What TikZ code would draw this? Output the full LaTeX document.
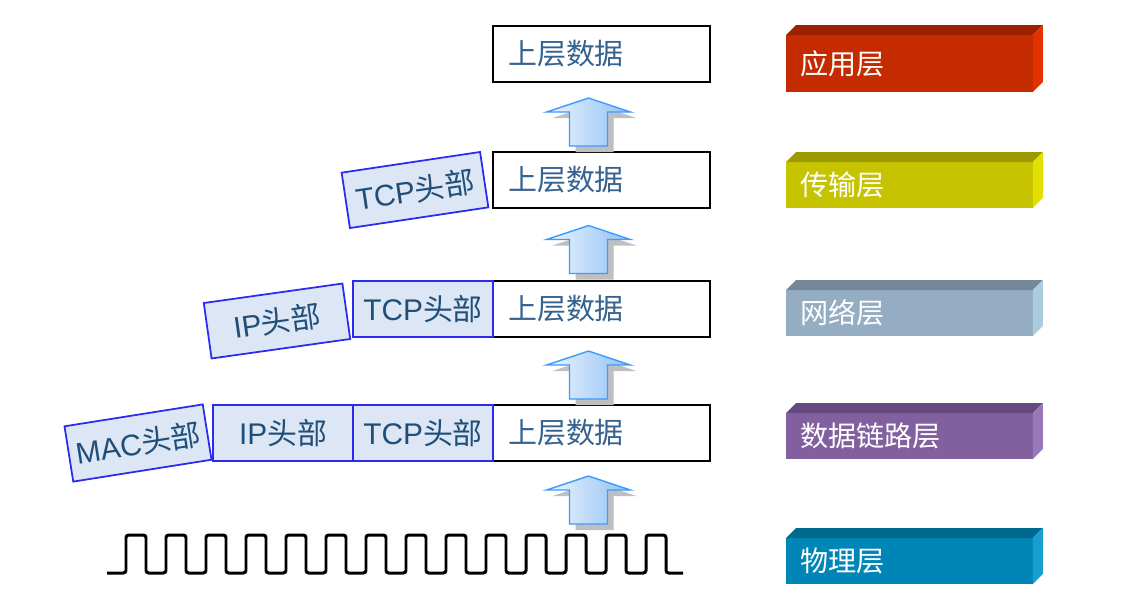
\documentclass[tikz,border=0pt]{standalone}
\usepackage{fontspec}
\setmainfont{Liberation Sans}
\newfontfamily\cjk{Noto Sans CJK SC}
\usetikzlibrary{positioning,calc}

\definecolor{hdrblue}{HTML}{2B2BF0}
\definecolor{hdrfill}{HTML}{DCE6F4}
\definecolor{hdrtext}{HTML}{1F4E79}
\definecolor{datatext}{HTML}{35628F}
\definecolor{arrowedge}{HTML}{3C9BFF}
\definecolor{arrowlight}{HTML}{EEF5FF}
\definecolor{arrowdark}{HTML}{8EC0F2}
% layer bar colours: front / top / side
\definecolor{appfront}{HTML}{C42B00}\definecolor{apptop}{HTML}{9C2100}\definecolor{appside}{HTML}{E23200}
\definecolor{trafront}{HTML}{C6C300}\definecolor{tratop}{HTML}{9C9A00}\definecolor{traside}{HTML}{E2E000}
\definecolor{netfront}{HTML}{94ADC3}\definecolor{nettop}{HTML}{748899}\definecolor{netside}{HTML}{ABCBDF}
\definecolor{linkfront}{HTML}{8260A0}\definecolor{linktop}{HTML}{654A80}\definecolor{linkside}{HTML}{9A76BA}
\definecolor{phyfront}{HTML}{0086B6}\definecolor{phytop}{HTML}{006A8E}\definecolor{physide}{HTML}{16A0D2}

\newcommand{\liftarrow}[1]{%
  \fill[black!25] ($(#1)+(6,6)$) -- ++(42,14) -- ++(-23,0) -- ++(0,34) -- ++(-38,0) -- ++(0,-34) -- ++(-23,0) -- cycle;
  \draw[arrowedge, line width=0.8pt, left color=arrowlight, right color=arrowdark]
    (#1) -- ++(42,14) -- ++(-23,0) -- ++(0,34) -- ++(-38,0) -- ++(0,-34) -- ++(-23,0) -- cycle;}

\newcommand{\layerfaces}[3]{%
  \fill[#2] (#1.north west) -- ++(10,-10) -- ($(#1.north east)+(10,-10)$) -- (#1.north east) -- cycle;
  \fill[#3] (#1.north east) -- ++(10,-10) -- ($(#1.south east)+(10,-10)$) -- (#1.south east) -- cycle;}

\begin{document}
\begin{tikzpicture}[
    x=0.02cm, y=-0.02cm,
    databox/.style={draw, line width=0.8pt, fill=white, minimum height=1.12cm, text width=3.74cm,
        inner xsep=0.3cm, inner ysep=0pt, outer sep=0pt, align=left, text=datatext,
        font=\cjk\fontsize{16.5}{20}\selectfont},
    hdr/.style={draw=hdrblue, fill=hdrfill, line width=1pt, minimum width=2.8cm, minimum height=1.12cm,
        inner sep=0pt, outer sep=0pt, text=hdrtext, font=\fontsize{17}{20}\selectfont},
    layerbar/.style={anchor=north west, minimum height=0.92cm, text width=4.38cm, inner xsep=0.28cm,
        inner ysep=0pt, outer sep=0pt, align=left, text=white, font=\cjk\fontsize{16}{20}\selectfont}
]
\useasboundingbox (0,0) rectangle (1129,610);

% data units
\node[databox] (data1) at (601.5,54) {上层数据};
\node[databox] (data2) at (601.5,180) {上层数据};
\node[databox] (data3) at (601.5,309) {上层数据};
\node[databox] (data4) at (601.5,433) {上层数据};

% headers
\node[hdr, rotate=8.5] (tcp2) at (415,190) {TCP{\cjk 头部}};
\node[hdr, left=0pt of data3] (tcp3) {TCP{\cjk 头部}};
\node[hdr, rotate=8] (ip3) at (277,321) {IP{\cjk 头部}};
\node[hdr, left=0pt of data4] (tcp4) {TCP{\cjk 头部}};
\node[hdr, left=0pt of tcp4] (ip4) {IP{\cjk 头部}};
\node[hdr, rotate=9] (mac4) at (138,443) {MAC{\cjk 头部}};

% bit stream
\draw[line width=1.7pt, rounded corners=1.5pt] (107,573)
  \foreach \k in {0,...,13} { -- (126+40*\k,573) -- (126+40*\k,535) -- (146+40*\k,535) -- (146+40*\k,573) }
  -- (683,573);
\coordinate (wavetop) at (601.5,535);

% upward arrows
\coordinate (t12) at ($(data2.north)!0.5!(data1.south)+(-13,-19)$);
\coordinate (t23) at ($(data3.north)!0.5!(data2.south)+(-13,-19)$);
\coordinate (t34) at ($(data4.north)!0.5!(data3.south)+(-13,-20)$);
\coordinate (t4w) at ($(wavetop)!0.5!(data4.south)+(-13,-22)$);
\liftarrow{t12}
\liftarrow{t23}
\liftarrow{t34}
\liftarrow{t4w}

% layer bars
\node[layerbar, fill=appfront, minimum height=1.14cm] (app) at (786,35) {应用层};
\node[layerbar, fill=trafront] (tra) at (786,162) {传输层};
\node[layerbar, fill=netfront] (net) at (786,290) {网络层};
\node[layerbar, fill=linkfront] (link) at (786,413) {数据链路层};
\node[layerbar, fill=phyfront] (phy) at (786,538) {物理层};
\layerfaces{app}{apptop}{appside}
\layerfaces{tra}{tratop}{traside}
\layerfaces{net}{nettop}{netside}
\layerfaces{link}{linktop}{linkside}
\layerfaces{phy}{phytop}{physide}
\end{tikzpicture}
\end{document}
